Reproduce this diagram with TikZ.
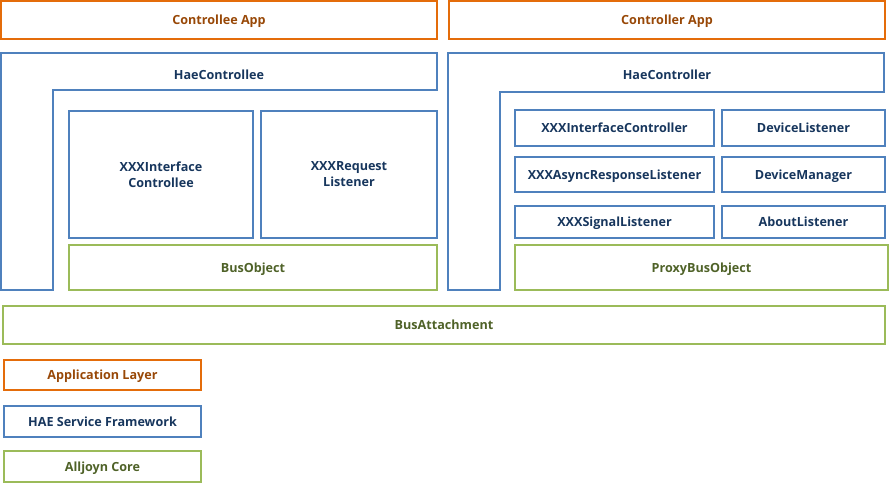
\documentclass[tikz,border=0pt]{standalone}
\usepackage{fontspec}
\setmainfont{Open Sans}
\definecolor{orb}{HTML}{E46C0A}
\definecolor{ort}{HTML}{984807}
\definecolor{blb}{HTML}{4F81BD}
\definecolor{blt}{HTML}{17365D}
\definecolor{grb}{HTML}{9BBB59}
\definecolor{grt}{HTML}{4F6228}
\begin{document}
\begin{tikzpicture}[x=1pt,y=-1pt,
  lbl/.style={font=\bfseries\fontsize{12.6}{16}\selectfont,align=center},
  one/.style={text height=9pt,text depth=0pt},
  box/.style={lbl,draw,line width=2pt,inner sep=0pt},
  appbox/.style={box,one,draw=orb,text=ort},
  haebox/.style={box,one,draw=blb,text=blt},
  haebox2/.style={box,draw=blb,text=blt},
  corebox/.style={box,one,draw=grb,text=grt}]
\useasboundingbox (0,0) rectangle (890,484);
\newcommand{\bx}[5]{\node[#1,minimum width=#4-#2,minimum height=#5-#3] at ({(#2+#4)/2},{(#3+#5)/2})}
% top apps
\bx{appbox}{1}{1}{437}{39} (cee) {Controllee App};
\bx{appbox}{449}{1}{885}{39} (cer) {Controller App};
% L shapes
\draw[blb,line width=2pt] (1,53) -- (437,53) -- (437,90) -- (53,90) -- (53,290) -- (1,290) -- cycle;
\node[lbl,one,text=blt] (haecee) at (219,75) {HaeControllee};
\draw[blb,line width=2pt] (448,53) -- (884,53) -- (884,92) -- (500,92) -- (500,290) -- (448,290) -- cycle;
\node[lbl,one,text=blt] (haecer) at (667,75) {HaeController};
% controllee inner
\bx{haebox2}{69}{111}{253}{238} (ific) {XXXInterface\\Controllee};
\bx{haebox2}{261}{111}{437}{238} (reql) {XXXRequest\\Listener};
\bx{corebox}{69}{245}{437}{290} (bo) {BusObject};
% controller inner
\bx{haebox}{515}{110}{714}{146} (ifcr) {XXXInterfaceController};
\bx{haebox}{722}{110}{885}{146} (devl) {DeviceListener};
\bx{haebox}{515}{157}{714}{192} (asyn) {XXXAsyncResponseListener};
\bx{haebox}{722}{157}{885}{192} (devm) {DeviceManager};
\bx{haebox}{515}{206}{714}{238} (sigl) {XXXSignalListener};
\bx{haebox}{722}{206}{885}{238} (abtl) {AboutListener};
\bx{corebox}{515}{245}{888}{290} (pbo) {ProxyBusObject};
% bus attachment
\bx{corebox}{3}{306}{885}{344} (ba) {BusAttachment};
% legend
\bx{appbox}{4}{360}{201}{390} (lapp) {Application Layer};
\bx{haebox}{4}{406}{201}{437} (lhae) {HAE Service Framework};
\bx{corebox}{4}{451}{201}{482} (lcore) {Alljoyn Core};
\end{tikzpicture}
\end{document}
